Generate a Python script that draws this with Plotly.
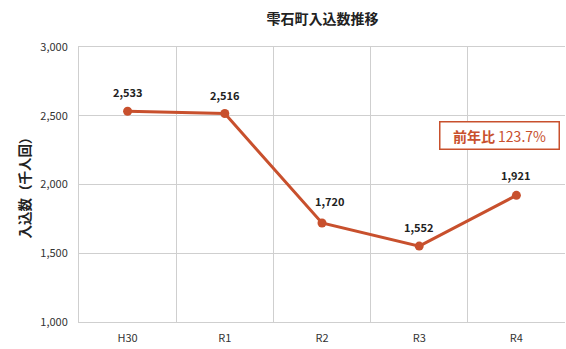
import plotly.graph_objects as go

categories = ["H30", "R1", "R2", "R3", "R4"]
values = [2533, 2516, 1720, 1552, 1921]
labels = ["2,533", "2,516", "1,720", "1,552", "1,921"]
y_ticks = [1000, 1500, 2000, 2500, 3000]
y_tick_text = ["1,000", "1,500", "2,000", "2,500", "3,000"]

# label placement offsets (px), style only
label_xshift = [0, 0, 8, 0, 0]
label_yshift = [19, 19, 22, 19, 20]

line_color = "#c8502d"
font_family = "Noto Sans CJK JP, sans-serif"

fig = go.Figure()
fig.add_trace(go.Scatter(
    x=categories, y=values,
    mode="lines+markers",
    line=dict(color=line_color, width=3),
    marker=dict(color=line_color, size=9),
    cliponaxis=False,
    hoverinfo="skip",
))

for c, v, t, dx, dy in zip(categories, values, labels, label_xshift, label_yshift):
    fig.add_annotation(
        x=c, y=v, text=f"<b>{t}</b>", showarrow=False,
        xanchor="center", yanchor="middle",
        xshift=dx, yshift=dy,
        font=dict(family=font_family, size=11, color="#222222"),
    )

fig.add_annotation(
    x=0.866, y=0.68, xref="paper", yref="paper",
    xanchor="center", yanchor="middle",
    text="<b>前年比</b> 123.7%",
    showarrow=False,
    font=dict(family=font_family, size=14, color=line_color),
    bordercolor=line_color, borderwidth=1.5, borderpad=3,
    width=112, height=20,
    bgcolor="white",
)

fig.update_layout(
    width=566, height=349,
    margin=dict(l=79, r=1, t=47, b=27),
    paper_bgcolor="white", plot_bgcolor="white",
    showlegend=False,
    title=dict(
        text="<b>雫石町入込数推移</b>",
        x=0.57, xanchor="center", y=0.945, yanchor="middle",
        font=dict(family=font_family, size=14, color="#222222"),
    ),
    xaxis=dict(
        type="category",
        showgrid=True, gridcolor="#cfcfcf", gridwidth=1,
        tickson="boundaries", ticks="",
        showline=True, linecolor="#cfcfcf", mirror=True,
        tickfont=dict(family=font_family, size=11, color="#333333"),
        ticklabelstandoff=6,
        range=[-0.5, 4.5],
    ),
    yaxis=dict(
        range=[1000, 3000],
        tickvals=y_ticks, ticktext=y_tick_text,
        showgrid=True, gridcolor="#cfcfcf", gridwidth=1,
        showline=True, linecolor="#cfcfcf",
        zeroline=False, ticks="",
        tickfont=dict(family=font_family, size=11, color="#333333"),
        ticklabelstandoff=8,
        title=dict(
            text="<b>入込数（千人回）</b>",
            font=dict(family=font_family, size=13.5, color="#222222"),
            standoff=6,
        ),
    ),
)

fig.write_html("out.html")
